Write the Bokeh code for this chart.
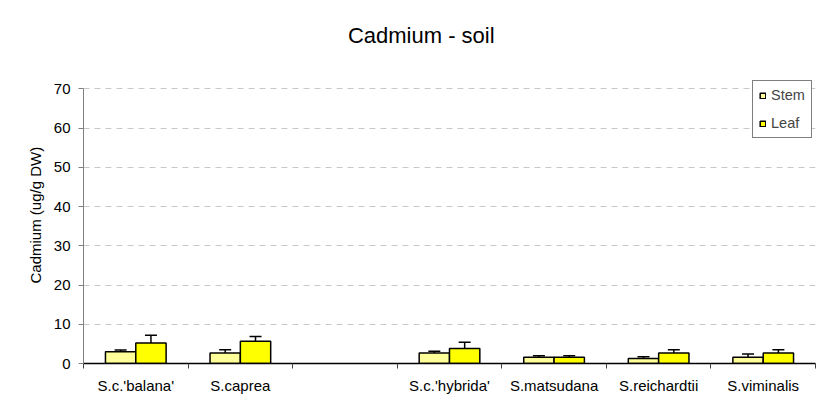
from bokeh.plotting import figure
from bokeh.models import (ColumnDataSource, FixedTicker, Whisker, TeeHead, Legend,
                          LegendItem, Range1d, Label, Title)
from bokeh.transform import dodge
from bokeh.embed import file_html
from bokeh.resources import INLINE
import numpy as np

title_text = "Cadmium - soil"
y_label = "Cadmium (ug/g DW)"
categories = ["S.c.'balana'", "S.caprea", "", "S.c.'hybrida'", "S.matsudana",
              "S.reichardtii", "S.viminalis"]
stem = [3.0, 2.65, np.nan, 2.7, 1.6, 1.3, 1.6]
stem_err = [0.45, 0.85, np.nan, 0.4, 0.4, 0.4, 0.8]
leaf = [5.2, 5.7, np.nan, 3.8, 1.6, 2.7, 2.7]
leaf_err = [2.0, 1.2, np.nan, 1.6, 0.4, 0.8, 0.8]
y_ticks = [0, 10, 20, 30, 40, 50, 60, 70]

FONT = "Liberation Sans"
n = len(categories)
centers = [i + 0.5 for i in range(n)]
src = ColumnDataSource(dict(
    x=centers,
    stem=stem, stem_hi=[s + e for s, e in zip(stem, stem_err)],
    leaf=leaf, leaf_hi=[s + e for s, e in zip(leaf, leaf_err)],
))

# frame reaches the top of the canvas; the y axis line is bounded to 0..70
p = figure(width=822, height=404, output_backend="svg", toolbar_location=None,
           x_range=Range1d(0, n), y_range=Range1d(0, 92.5),
           min_border_left=83, min_border_right=7, min_border_top=0,
           min_border_bottom=41)
p.outline_line_color = None
p.background_fill_color = "white"
p.border_fill_color = "white"

p.add_layout(Label(x=3.23, y=83.6, text=title_text, text_align="center",
                   text_baseline="middle", text_font=FONT,
                   text_font_size="22px", text_color="black"))

bw = 0.29
r_stem = p.vbar(x=dodge("x", -0.145), top="stem", bottom=0, width=bw, source=src,
                fill_color="#FFFF99", line_color="black", line_width=1.5)
r_leaf = p.vbar(x=dodge("x", 0.145), top="leaf", bottom=0, width=bw, source=src,
                fill_color="#FFFF00", line_color="black", line_width=1.5)

for col_lo, col_hi, off in (("stem", "stem_hi", -0.145), ("leaf", "leaf_hi", 0.145)):
    w = Whisker(base=dodge("x", off), lower=col_lo, upper=col_hi, source=src,
                line_color="black", line_width=1.5,
                upper_head=TeeHead(size=12, line_color="black", line_width=1.5),
                lower_head=None, level="underlay")
    p.add_layout(w)

# x axis
xa = p.xaxis[0]
xa.ticker = FixedTicker(ticks=centers, minor_ticks=list(range(n + 1)))
xa.major_label_overrides = {c: lab for c, lab in zip(centers, categories)}
xa.major_tick_out = 0
xa.major_tick_in = 0
xa.minor_tick_out = 5
xa.minor_tick_in = 0
xa.minor_tick_line_color = "#404040"
xa.axis_line_color = "black"
xa.axis_line_width = 1.5
xa.major_label_text_font = FONT
xa.major_label_text_font_size = "15px"
xa.major_label_text_color = "black"
xa.major_label_standoff = 8

ya = p.yaxis[0]
ya.ticker = FixedTicker(ticks=y_ticks)
ya.bounds = (0, 70)
ya.minor_tick_out = 0
ya.minor_tick_in = 0
ya.major_tick_out = 5
ya.major_tick_in = 0
ya.axis_line_color = "#808080"
ya.major_tick_line_color = "#808080"
ya.major_label_text_font = FONT
ya.major_label_text_font_size = "15px"
ya.major_label_text_color = "black"
ya.major_label_standoff = 8

# y axis title placed beside the 0..70 part of the axis
p.add_layout(Title(text=y_label, align="left", offset=80, standoff=13,
                   text_font=FONT, text_font_style="normal",
                   text_font_size="15px", text_color="black"), "left")

p.xgrid.grid_line_color = None
p.ygrid.grid_line_color = "#C8C8C8"
p.ygrid.grid_line_dash = "6 5"
p.ygrid.ticker = FixedTicker(ticks=y_ticks[1:])

legend = Legend(items=[LegendItem(label="Stem", renderers=[r_stem]),
                       LegendItem(label="Leaf", renderers=[r_leaf])],
                location=(669, 225), orientation="vertical",
                label_text_font=FONT, label_text_font_size="14.5px",
                glyph_width=7, glyph_height=7, label_height=15, spacing=12,
                padding=6, margin=0, label_standoff=5,
                border_line_color="black", border_line_width=1,
                background_fill_color="white", background_fill_alpha=1)
p.add_layout(legend)

open("out.html", "w").write(file_html(p, INLINE))
